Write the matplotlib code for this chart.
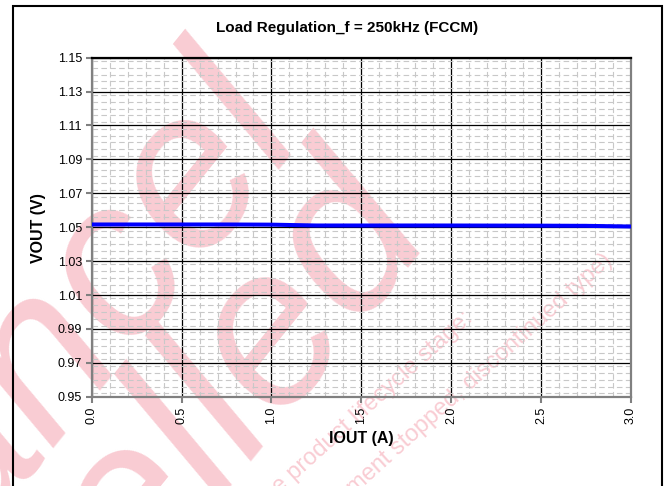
import matplotlib

matplotlib.use("Agg")

import matplotlib.pyplot as plt
import numpy as np
from matplotlib.patches import Rectangle
from matplotlib.ticker import FormatStrFormatter, MultipleLocator

# data
IOUT = [0.0, 0.1, 0.2, 0.3, 0.5, 0.75, 1.0, 1.25, 1.5, 2.0, 2.5, 2.75, 3.0]
VOUT = [1.0516, 1.0516, 1.0516, 1.0516, 1.0516, 1.0516, 1.0515, 1.0510,
        1.0510, 1.0510, 1.0509, 1.0508, 1.0504]
X_TICKS = [0.0, 0.5, 1.0, 1.5, 2.0, 2.5, 3.0]
Y_TICKS = [0.95, 0.97, 0.99, 1.01, 1.03, 1.05, 1.07, 1.09, 1.11, 1.13, 1.15]

TITLE = "Load Regulation_f = 250kHz (FCCM)"
X_LABEL = "IOUT (A)"
Y_LABEL = "VOUT (V)"

PINK = "#f9ccd3"
GRAY = "#808080"
W, H = 667, 486

plt.rcParams["font.family"] = ["Liberation Sans", "DejaVu Sans"]

fig = plt.figure(figsize=(W / 100, H / 100), dpi=100)
fig.patch.set_facecolor("white")


def fx(px):
    return px / W


def fy(py):
    return 1 - py / H


# watermark, behind the axes
fig.text(fx(305), fy(124), "Cancel", rotation=51, rotation_mode="anchor",
         ha="right", va="baseline", fontsize=160, color=PINK, style="italic", zorder=-2)
fig.text(fx(432), fy(224), "Cancelled", rotation=51, rotation_mode="anchor",
         ha="right", va="baseline", fontsize=160, color=PINK, style="italic", zorder=-2)
fig.text(fx(474), fy(320), "Refer to the product lifecycle stage:", rotation=42,
         rotation_mode="anchor", ha="right", va="baseline", fontsize=17, color=PINK, zorder=-2)
fig.text(fx(614), fy(262), "(development stopped, discontinued type)", rotation=42,
         rotation_mode="anchor", ha="right", va="baseline", fontsize=17, color=PINK, zorder=-2)

# outer frame
fig.add_artist(Rectangle((fx(13), fy(520)), fx(662) - fx(13), fy(6) - fy(520),
                         transform=fig.transFigure, fill=False, edgecolor="black",
                         linewidth=1.5, clip_on=False))

ax = fig.add_axes([fx(91.7), fy(396.7), fx(631) - fx(91.7), fy(57.7) - fy(396.7)])
ax.set_facecolor("none")

ax.plot(IOUT, VOUT, color="#0000ff", linewidth=2.9, solid_capstyle="butt", zorder=3)

ax.set_xlim(0, 3.0)
ax.set_ylim(0.95, 1.15)
ax.set_xticks(X_TICKS)
ax.set_yticks(Y_TICKS)
ax.xaxis.set_major_formatter(FormatStrFormatter("%.1f"))
ax.yaxis.set_major_formatter(FormatStrFormatter("%.2f"))
ax.xaxis.set_minor_locator(MultipleLocator(0.1))
ax.yaxis.set_minor_locator(MultipleLocator(0.004))
ax.tick_params(axis="x", which="major", labelrotation=90)
ax.tick_params(which="major", direction="out", length=4, width=1.5, color=GRAY,
               labelsize=9, labelcolor="black", pad=3)
ax.tick_params(which="minor", length=0)

ax.grid(which="minor", color="#c8c8c8", linewidth=0.8, linestyle=(0, (5, 3)))
ax.grid(which="major", color="black", linewidth=0.9)
ax.set_axisbelow(True)

for side in ("left", "bottom", "right"):
    ax.spines[side].set_color(GRAY)
    ax.spines[side].set_linewidth(1.6)
ax.spines["top"].set_color("black")
ax.spines["top"].set_linewidth(1.6)

fig.text(fx(347), fy(28), TITLE, ha="center", va="center", fontsize=11, fontweight="bold")
fig.text(fx(361), fy(438), X_LABEL, ha="center", va="center", fontsize=11.5, fontweight="bold")
fig.text(fx(38), fy(228), Y_LABEL, ha="center", va="center", rotation=90,
         fontsize=11.5, fontweight="bold")

fig.savefig("out.png", dpi=100, facecolor="white")
